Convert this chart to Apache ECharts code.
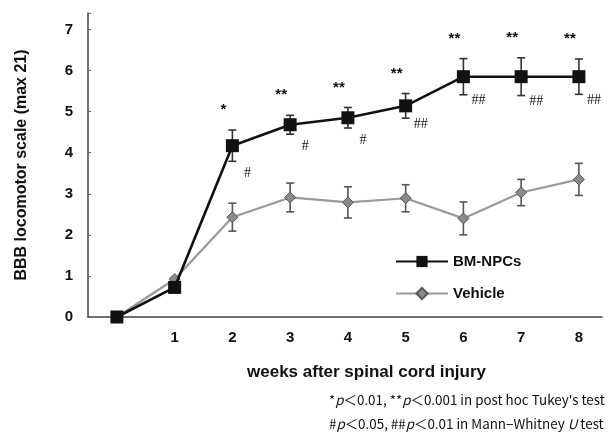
<!DOCTYPE html>
<html><head><meta charset="utf-8">
<script src="https://cdn.jsdelivr.net/npm/echarts@6/dist/echarts.min.js"></script>
<style>html,body{margin:0;padding:0;background:#fff}#c{width:610px;height:434px}</style>
</head><body><div id="c"></div>
<script>
const weeks = [0, 1, 2, 3, 4, 5, 6, 7, 8];
const bmMean = [0, 0.72, 4.17, 4.68, 4.85, 5.14, 5.85, 5.85, 5.85];
const bmErr = [0, 0.1, 0.38, 0.23, 0.25, 0.3, 0.44, 0.46, 0.43];
const vehMean = [0, 0.92, 2.43, 2.91, 2.79, 2.89, 2.4, 3.03, 3.35];
const vehErr = [0, 0.04, 0.34, 0.35, 0.38, 0.33, 0.4, 0.32, 0.39];
const tukeyMarks = ['', '', '*', '**', '**', '**', '**', '**', '**'];
const mannMarks = ['', '', '#', '#', '#', '##', '##', '##', '##'];
const xTickLabels = ['1', '2', '3', '4', '5', '6', '7', '8'];
const yTickLabels = ['0', '1', '2', '3', '4', '5', '6', '7'];

const boldFont = 'Liberation Sans';
const chart = echarts.init(document.getElementById('c'));

function errData(mean, err) { return weeks.map((w, i) => [w, mean[i], err[i]]); }
function errRender(color) {
  return function (params, api) {
    const x = api.value(0), y = api.value(1), e = api.value(2);
    if (!e) return null;
    const hi = api.coord([x, y + e]), lo = api.coord([x, y - e]);
    const cw = 4;
    return { type: 'group', children: [
      { type: 'line', shape: { x1: hi[0], y1: hi[1], x2: lo[0], y2: lo[1] }, style: { stroke: color, lineWidth: 1.6 } },
      { type: 'line', shape: { x1: hi[0] - cw, y1: hi[1], x2: hi[0] + cw, y2: hi[1] }, style: { stroke: color, lineWidth: 1.6 } },
      { type: 'line', shape: { x1: lo[0] - cw, y1: lo[1], x2: lo[0] + cw, y2: lo[1] }, style: { stroke: color, lineWidth: 1.6 } }
    ]};
  };
}
const annData = weeks.map((w, i) => [w, bmMean[i] + bmErr[i], bmMean[i] - bmErr[i], i]);

chart.setOption({
  animation: false,
  grid: { left: 88, right: 8, top: 13, bottom: 117 },
  xAxis: {
    type: 'value', min: -0.5, max: 8.4, interval: 0.5,
    axisLine: { show: true, onZero: false, lineStyle: { color: '#444', width: 1.5 } },
    axisTick: { show: false }, splitLine: { show: false },
    axisLabel: { margin: 13, color: '#111', fontFamily: boldFont, fontWeight: 'bold', fontSize: 15,
      formatter: v => (Number.isInteger(v) && v >= 1) ? xTickLabels[v - 1] : '' }
  },
  yAxis: {
    type: 'value', min: 0, max: 7.4, interval: 1,
    name: 'BBB locomotor scale (max 21)', nameLocation: 'middle', nameGap: 58,
    nameTextStyle: { fontFamily: boldFont, fontWeight: 'bold', fontSize: 16, color: '#111' },
    axisLine: { show: true, onZero: false, lineStyle: { color: '#444', width: 1.5 } },
    axisTick: { show: true, inside: true, length: 3, lineStyle: { color: '#666' } },
    splitLine: { show: false },
    axisLabel: { margin: 15, color: '#111', fontFamily: boldFont, fontWeight: 'bold', fontSize: 15,
      formatter: v => Number.isInteger(v) ? yTickLabels[v] : '' }
  },
  legend: {
    orient: 'vertical', left: 390, top: 249, itemGap: 17, itemWidth: 52, itemHeight: 14,
    textStyle: { fontFamily: boldFont, fontWeight: 'bold', fontSize: 15, color: '#111' },
    data: ['BM-NPCs', 'Vehicle']
  },
  series: [
    { type: 'custom', name: 'vehErr', z: 1, renderItem: errRender('#555'), data: errData(vehMean, vehErr), silent: true },
    { type: 'custom', name: 'bmErr', z: 1, renderItem: errRender('#333'), data: errData(bmMean, bmErr), silent: true },
    { type: 'line', name: 'Vehicle', z: 3, data: weeks.map((w, i) => [w, vehMean[i]]),
      symbol: 'diamond', symbolSize: 11,
      lineStyle: { color: '#999', width: 2.2 },
      itemStyle: { color: '#8a8a8a', borderColor: '#555', borderWidth: 1 } },
    { type: 'line', name: 'BM-NPCs', z: 4, data: weeks.map((w, i) => [w, bmMean[i]]),
      symbol: 'rect', symbolSize: 13,
      lineStyle: { color: '#111', width: 2.6 },
      itemStyle: { color: '#111' } },
    { type: 'custom', name: 'ann', z: 5, silent: true, data: annData,
      renderItem: function (params, api) {
        const i = api.value(3);
        const hi = api.coord([api.value(0), api.value(1)]);
        const lo = api.coord([api.value(0), api.value(2)]);
        const ch = [];
        if (tukeyMarks[i]) ch.push({ type: 'text', x: hi[0] - 9, y: hi[1] - 20,
          style: { text: tukeyMarks[i], fill: '#111', font: 'bold 15px "Liberation Sans"', align: 'center', verticalAlign: 'middle' } });
        if (mannMarks[i]) ch.push({ type: 'text', x: lo[0] + 15, y: lo[1] + (mannMarks[i].length === 1 ? 12 : 6),
          style: { text: mannMarks[i], fill: '#111', font: '14px "Liberation Serif"', align: 'center', verticalAlign: 'middle' } });
        return { type: 'group', children: ch };
      } }
  ],
  graphic: [
    { type: 'text', left: 247, top: 364,
      style: { text: 'weeks after spinal cord injury', fill: '#111', font: 'bold 17px "Liberation Sans"' } },
    { type: 'text', left: 329, top: 393,
      style: { text: '*{i|p}＜0.01, **{i|p}＜0.001 in post hoc Tukey\'s test', fill: '#111',
        font: '13.4px "Noto Sans CJK JP"', rich: { i: { fontStyle: 'italic', fontFamily: 'Noto Sans CJK JP', fontSize: 13.4 } } } },
    { type: 'text', left: 329, top: 417,
      style: { text: '#{i|p}＜0.05, ##{i|p}＜0.01 in Mann−Whitney {i|U} test', fill: '#111',
        font: '13.4px "Noto Sans CJK JP"', rich: { i: { fontStyle: 'italic', fontFamily: 'Noto Sans CJK JP', fontSize: 13.4 } } } }
  ]
});
</script></body></html>
